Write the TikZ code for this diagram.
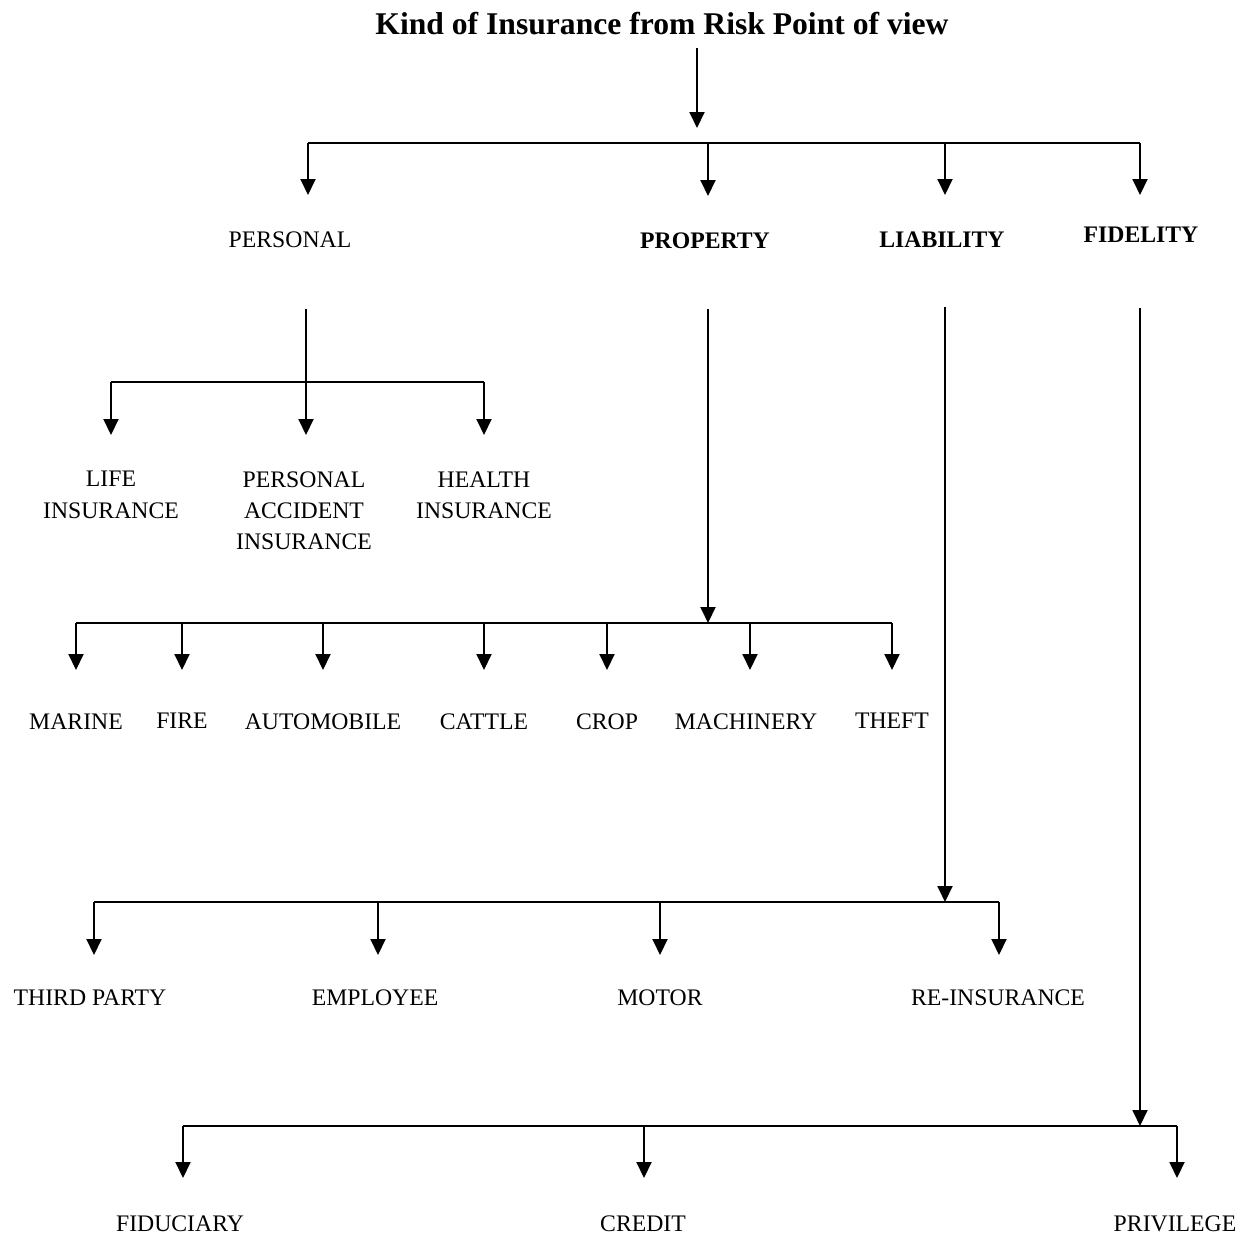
\documentclass[tikz,border=0pt]{standalone}
\usepackage{fontspec}
\setmainfont{Liberation Serif}
\usetikzlibrary{arrows.meta}
\tikzset{
  kid/.style={anchor=north, inner sep=0pt, align=center,
    font=\fontsize{13.5}{17.9}\selectfont},
  head/.style={kid, font=\fontsize{13.5}{17.9}\selectfont\bfseries},
  arr/.style={line width=1.1pt, -{Triangle[length=0.32cm, width=0.3cm]}},
  bus/.style={line width=1.1pt}}

\begin{document}
\begin{tikzpicture}[x=0.02cm, y=-0.02cm]
      \useasboundingbox (0, 0) rectangle (1251, 1237);

      \node [anchor=base, inner sep=0pt, font=\fontsize{18}{22}\selectfont\bfseries] (title) at (662, 35) {Kind of Insurance from Risk Point of view};

      % first level
      \node [kid] (personal) at (290, 231) {PERSONAL};
      \node [head] (property) at (705, 232) {PROPERTY};
      \node [head] (liability) at (942, 231) {LIABILITY};
      \node [head] (fidelity) at (1141, 227) {FIDELITY};

      \coordinate (top) at (697, 143);
      \coordinate (top1) at (308, 143);
      \coordinate (top2) at (708, 143);
      \coordinate (top3) at (945, 143);
      \coordinate (top4) at (1140, 143);

      \draw [arr, shorten <=0.26cm, shorten >=0.3cm] (title.base -| top) -- (top);
      \draw [bus] (top1) -- (top4);
      \draw [arr, shorten >=0.72cm] (top1) -- (top1 |- personal.north);
      \draw [arr, shorten >=0.72cm] (top2) -- (top2 |- property.north);
      \draw [arr, shorten >=0.72cm] (top3) -- (top3 |- liability.north);
      \draw [arr, shorten >=0.64cm] (top4) -- (top4 |- fidelity.north);

      % personal
      \node [kid] (life) at (111, 471) {LIFE\\INSURANCE};
      \node [kid] (accident) at (304, 471) {PERSONAL\\ACCIDENT\\INSURANCE};
      \node [kid] (health) at (484, 471) {HEALTH\\INSURANCE};

      \coordinate (pers1) at (111, 382);
      \coordinate (pers2) at (306, 382);
      \coordinate (pers3) at (484, 382);

      \draw [bus] (pers1) -- (pers3);
      \draw [arr, shorten <=1.22cm, shorten >=0.72cm] (personal.south -| pers2) -- (pers2 |- accident.north);
      \draw [arr, shorten >=0.72cm] (pers1) -- (pers1 |- life.north);
      \draw [arr, shorten >=0.72cm] (pers3) -- (pers3 |- health.north);

      % property
      \node [kid] (marine) at (76, 713) {MARINE};
      \node [kid] (fire) at (182, 713) {FIRE};
      \node [kid] (auto) at (323, 713) {AUTOMOBILE};
      \node [kid] (cattle) at (484, 713) {CATTLE};
      \node [kid] (crop) at (607, 713) {CROP};
      \node [kid] (machinery) at (746, 713) {MACHINERY};
      \node [kid] (theft) at (892, 713) {THEFT};

      \coordinate (prop) at (708, 623);
      \coordinate (prop1) at (76, 623);
      \coordinate (prop2) at (182, 623);
      \coordinate (prop3) at (323, 623);
      \coordinate (prop4) at (484, 623);
      \coordinate (prop5) at (607, 623);
      \coordinate (prop6) at (750, 623);
      \coordinate (prop7) at (892, 623);

      \draw [arr, shorten <=1.2cm] (property.south -| prop) -- (prop);
      \draw [bus] (prop1) -- (prop7);
      \draw [arr, shorten >=0.86cm] (prop1) -- (prop1 |- marine.north);
      \draw [arr, shorten >=0.86cm] (prop2) -- (prop2 |- fire.north);
      \draw [arr, shorten >=0.86cm] (prop3) -- (prop3 |- auto.north);
      \draw [arr, shorten >=0.86cm] (prop4) -- (prop4 |- cattle.north);
      \draw [arr, shorten >=0.86cm] (prop5) -- (prop5 |- crop.north);
      \draw [arr, shorten >=0.86cm] (prop6) -- (prop6 |- machinery.north);
      \draw [arr, shorten >=0.86cm] (prop7) -- (prop7 |- theft.north);

      % liability
      \node [kid] (third) at (90, 989) {THIRD PARTY};
      \node [kid] (employee) at (375, 989) {EMPLOYEE};
      \node [kid] (motor) at (660, 989) {MOTOR};
      \node [kid] (reins) at (998, 989) {RE-INSURANCE};

      \coordinate (liab) at (945, 902);
      \coordinate (liab1) at (94, 902);
      \coordinate (liab2) at (378, 902);
      \coordinate (liab3) at (660, 902);
      \coordinate (liab4) at (999, 902);

      \draw [arr, shorten <=1.2cm] (liability.south -| liab) -- (liab);
      \draw [bus] (liab1) -- (liab4);
      \draw [arr, shorten >=0.68cm] (liab1) -- (liab1 |- third.north);
      \draw [arr, shorten >=0.68cm] (liab2) -- (liab2 |- employee.north);
      \draw [arr, shorten >=0.68cm] (liab3) -- (liab3 |- motor.north);
      \draw [arr, shorten >=0.68cm] (liab4) -- (liab4 |- reins.north);

      % fidelity
      \node [kid] (fiduciary) at (180, 1215) {FIDUCIARY};
      \node [kid] (credit) at (643, 1215) {CREDIT};
      \node [kid] (privilege) at (1175, 1215) {PRIVILEGE};

      \coordinate (fid) at (1140, 1126);
      \coordinate (fid1) at (183, 1126);
      \coordinate (fid2) at (644, 1126);
      \coordinate (fid3) at (1177, 1126);

      \draw [arr, shorten <=1.3cm] (fidelity.south -| fid) -- (fid);
      \draw [bus] (fid1) -- (fid3);
      \draw [arr, shorten >=0.74cm] (fid1) -- (fid1 |- fiduciary.north);
      \draw [arr, shorten >=0.74cm] (fid2) -- (fid2 |- credit.north);
      \draw [arr, shorten >=0.74cm] (fid3) -- (fid3 |- privilege.north);

    \end{tikzpicture}
\end{document}
